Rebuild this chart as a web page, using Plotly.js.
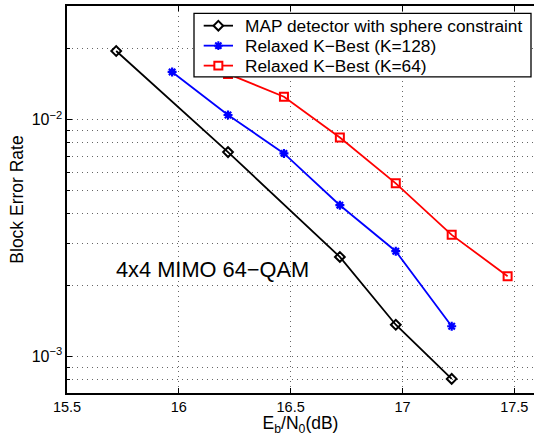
<!DOCTYPE html>
<html>
<head>
<meta charset="utf-8">
<script src="https://cdn.plot.ly/plotly-3.0.1.min.js"></script>
<style>html,body{margin:0;padding:0;background:#fff;overflow:hidden}#chart{width:534px;height:436px}</style>
</head>
<body>
<div id="chart"></div>
<script>
// Data
const seriesNames = ['MAP detector with sphere constraint', 'Relaxed K\u2212Best (K=128)', 'Relaxed K\u2212Best (K=64)'];
const seriesColors = ['#000000', '#0000ff', '#ff0000'];
const snrMAP  = [15.72, 16.22, 16.72, 16.97, 17.22];
const berMAP  = [0.0195, 0.00729, 0.00263, 0.00136, 0.000803];
const snrK128 = [15.97, 16.22, 16.47, 16.72, 16.97, 17.22];
const berK128 = [0.0159, 0.01046, 0.0072, 0.00435, 0.00278, 0.00134];
const snrK64  = [16.22, 16.47, 16.72, 16.97, 17.22, 17.47];
const berK64  = [0.0156, 0.0125, 0.0084, 0.00538, 0.00326, 0.00218];
const xTickVals = [15.5, 16, 16.5, 17, 17.5];
const xTickText = ['15.5', '16', '16.5', '17', '17.5'];
const yMajorVals = [0.001, 0.01];
const yMajorText = ['10<sup>\u22123</sup>', '10<sup>\u22122</sup>'];
const yMinorVals = [0.0007, 0.0008, 0.0009, 0.002, 0.003, 0.004, 0.005, 0.006, 0.007, 0.008, 0.009, 0.02, 0.03];

const FONT = 'Liberation Sans, Arial, Helvetica, sans-serif';
const gridColor = 'rgba(0,0,0,0.6)';
const gridDash = '1px,4px';

// plot-area geometry (pixels) used to place the legend box
const M = {l: 67, r: 0, t: 6, b: 42.5};
const PW = 534 - M.l - M.r, PH = 436 - M.t - M.b;
const px = v => (v - M.l) / PW;
const py = v => 1 - (v - M.t) / PH;

const traces = [
  {x: snrMAP, y: berMAP, name: seriesNames[0], type: 'scatter', mode: 'lines+markers', showlegend: false,
   line: {color: seriesColors[0], width: 1.8},
   marker: {symbol: 'diamond-open', size: 7.5, color: seriesColors[0], line: {width: 2, color: seriesColors[0]}}},
  {x: snrK128, y: berK128, name: seriesNames[1], type: 'scatter', mode: 'lines+markers', showlegend: false,
   line: {color: seriesColors[1], width: 1.8},
   marker: {symbol: 'asterisk-open', size: 7.5, color: seriesColors[1], line: {width: 2.2, color: seriesColors[1]}}},
  {x: snrK64, y: berK64, name: seriesNames[2], type: 'scatter', mode: 'lines+markers', showlegend: false,
   line: {color: seriesColors[2], width: 1.8},
   marker: {symbol: 'square-open', size: 8, color: seriesColors[2], line: {width: 2, color: seriesColors[2]}}}
];

// Legend (drawn as a box with samples and real text)
const LEG = {x0: 194, x1: 531, y0: 13.3, y1: 77, row0: 25.7, rowGap: 20, s0: 203.7, s1: 233, tx: 242.5};
const shapes = [{
  type: 'rect', xref: 'paper', yref: 'paper', layer: 'above',
  x0: px(LEG.x0), x1: px(LEG.x1), y0: py(LEG.y1), y1: py(LEG.y0),
  fillcolor: '#ffffff', line: {color: '#000000', width: 1.3}
}];
const annotations = [];
seriesNames.forEach((nm, i) => {
  const yc = LEG.row0 + LEG.rowGap * i;
  const c = seriesColors[i];
  shapes.push({type: 'line', xref: 'paper', yref: 'paper', layer: 'above',
    x0: px(LEG.s0), x1: px(LEG.s1), y0: py(yc), y1: py(yc), line: {color: c, width: 1.8}});
  const cx = (LEG.s0 + LEG.s1) / 2;
  let path;
  if (i === 0) {
    const r = 4.8;
    path = `M${px(cx)},${py(yc - r)} L${px(cx + r)},${py(yc)} L${px(cx)},${py(yc + r)} L${px(cx - r)},${py(yc)} Z`;
  } else if (i === 1) {
    const r = 4.3, d = 3.1;
    path = `M${px(cx - r)},${py(yc)} L${px(cx + r)},${py(yc)} M${px(cx)},${py(yc - r)} L${px(cx)},${py(yc + r)} ` +
           `M${px(cx - d)},${py(yc - d)} L${px(cx + d)},${py(yc + d)} M${px(cx - d)},${py(yc + d)} L${px(cx + d)},${py(yc - d)}`;
  } else {
    const r = 4;
    path = `M${px(cx - r)},${py(yc - r)} L${px(cx + r)},${py(yc - r)} L${px(cx + r)},${py(yc + r)} L${px(cx - r)},${py(yc + r)} Z`;
  }
  shapes.push({type: 'path', xref: 'paper', yref: 'paper', layer: 'above', path: path,
    fillcolor: i === 1 ? c : '#ffffff', line: {color: c, width: 2}});
  annotations.push({text: nm, xref: 'paper', yref: 'paper', x: px(LEG.tx), y: py(yc),
    xanchor: 'left', yanchor: 'middle', showarrow: false,
    font: {family: FONT, size: 17.3, color: '#000000'}});
});
annotations.push({
  text: '4x4 MIMO 64\u2212QAM', xref: 'x', yref: 'y',
  x: 15.709, y: Math.log10(0.00233), xanchor: 'left', yanchor: 'middle',
  showarrow: false, font: {family: FONT, size: 21.8, color: '#000000'}
});

const layout = {
  width: 534, height: 436,
  margin: {l: M.l, r: M.r, t: M.t, b: M.b, pad: 0},
  paper_bgcolor: '#ffffff', plot_bgcolor: '#ffffff',
  font: {family: FONT, size: 14, color: '#000000'},
  showlegend: false,
  xaxis: {
    range: [15.5, 17.588],
    tickmode: 'array', tickvals: xTickVals, ticktext: xTickText,
    ticks: 'inside', ticklen: 5, tickwidth: 1, tickcolor: '#000000',
    showline: true, linecolor: '#000000', linewidth: 1.6, mirror: 'ticks',
    showgrid: true, gridcolor: gridColor, griddash: gridDash, gridwidth: 1,
    zeroline: false,
    tickfont: {family: FONT, size: 14.5},
    title: {text: 'E<sub>b</sub>/N<sub>0</sub>(dB)', font: {family: FONT, size: 17.5}, standoff: 7}
  },
  yaxis: {
    type: 'log',
    range: [Math.log10(0.0007), Math.log10(0.0302)],
    tickmode: 'array', tickvals: yMajorVals, ticktext: yMajorText,
    ticks: 'inside', ticklen: 5, tickwidth: 1, tickcolor: '#000000',
    showline: true, linecolor: '#000000', linewidth: 1.6, mirror: false,
    showgrid: true, gridcolor: gridColor, griddash: gridDash, gridwidth: 1,
    zeroline: false,
    tickfont: {family: FONT, size: 16},
    minor: {tickmode: 'array', tickvals: yMinorVals, ticks: 'inside', ticklen: 3, tickcolor: '#000000',
            showgrid: true, gridcolor: gridColor, griddash: gridDash, gridwidth: 1},
    title: {text: 'Block Error Rate', font: {family: FONT, size: 17.5}, standoff: 3}
  },
  shapes: shapes,
  annotations: annotations
};

Plotly.newPlot('chart', traces, layout, {displayModeBar: false, staticPlot: true});
</script>
</body>
</html>
